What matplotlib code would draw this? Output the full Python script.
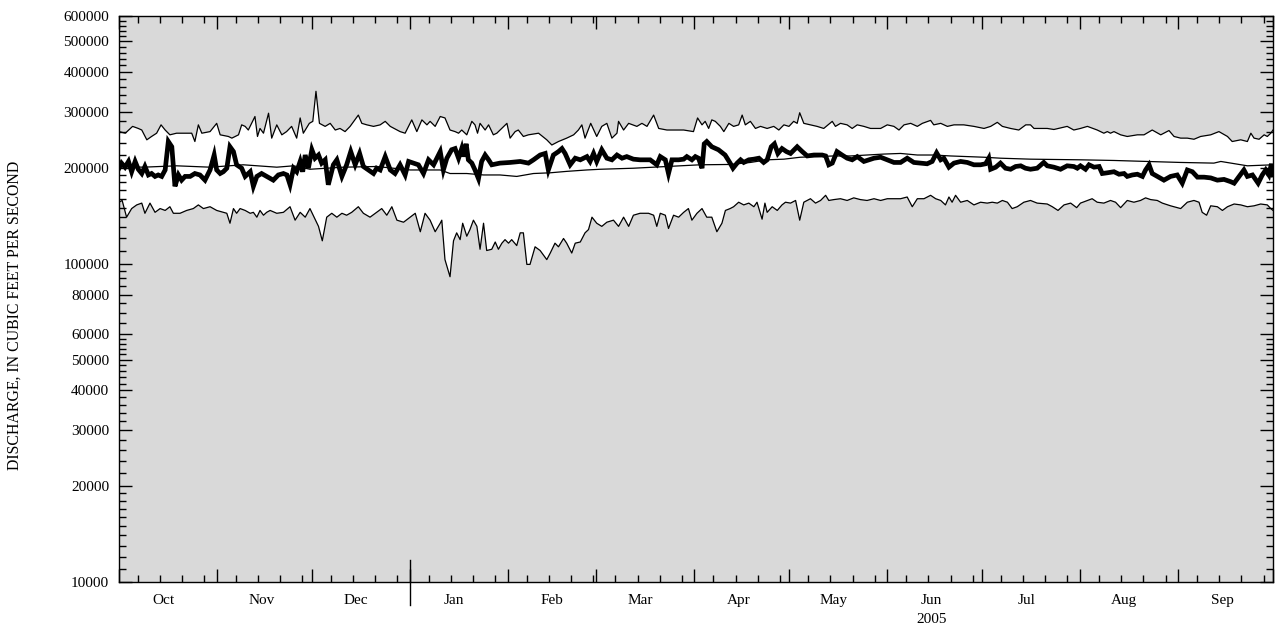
import datetime
import numpy as np
import matplotlib
matplotlib.use('Agg')
import matplotlib.pyplot as plt
import matplotlib.dates as mdates
from matplotlib.ticker import FixedLocator, FuncFormatter

# days since 1 Oct 2004 (water year 2005), discharge in thousands of cfs
max_days = [0, 2, 4.3, 6.1, 7.2, 8.8, 10.3, 11.9, 13.3, 14.6, 16.1, 18.2, 23, 24, 25.1, 26.2, 28.8, 30.9, 32, 34.6,
            35.7, 37.8, 38.8, 39.9, 40.9, 43, 43.8, 44.6, 45.7, 47.3, 48.3, 49.9, 51.5, 53, 54.6, 56.2, 57.3, 58.3,
            60.2, 61.3, 62.3, 63.4, 65.2, 66.8, 68.4, 69.9, 71.5, 73.1, 75.7, 76.8, 78.4, 80.5, 82.6, 84.2, 85.8,
            88.9, 90.5, 92.6, 94.2, 95.8, 97.4, 98.4, 100, 101.6, 103.1, 104.7, 106.3, 107.4, 108.4, 110, 111.6,
            112.6, 113.4, 114.2, 115.8, 116.9, 118.4, 119.5, 122.7, 123.7, 125.3, 126.3, 127.9, 129.5, 132.7, 135.3,
            136.9, 139, 141.6, 143.8, 145.3, 146.4, 147.4, 149.2, 151.1, 152.7, 154.3, 155.9, 157.5, 158, 159.6,
            161.2, 163.8, 165.4, 167, 169.1, 170.7, 173.3, 178.6, 181.7, 183, 184.4, 185.4, 186.5, 187.5, 188.6,
            190.2, 191.3, 192.9, 194.4, 196, 197.1, 198.1, 199.7, 201.3, 202.9, 205, 207.1, 208.7, 210.3, 211.9,
            213.4, 214.5, 215.3, 216.6, 218.7, 220.8, 222.9, 225.6, 226.6, 228.2, 230.3, 231.9, 233.5, 235.6, 237.7,
            240.9, 243, 245.1, 246.7, 248.3, 250.4, 252.5, 254.1, 256.7, 257.7, 259.9, 262, 264.1, 267.2, 270.4,
            273.6, 275.7, 277.8, 279.4, 282, 284.6, 286.8, 288.3, 289.4, 293.6, 295.7, 299.9, 302, 304.1, 306.3,
            309.4, 311.5, 312.6, 313.6, 314.7, 316.8, 318.9, 322.1, 324.2, 326.8, 329.5, 332.1, 333.7, 335.8, 337.9,
            340, 342.1, 345.3, 347.9, 350.6, 352.1, 354.8, 356.9, 358, 359, 360.6, 362.2, 363.2, 364.3, 365]
max_vals = [260, 257, 270, 266, 263, 245, 251, 257, 273, 263, 254, 257, 257, 242, 273, 257, 260, 276, 254, 251,
            248, 254, 273, 270, 263, 290, 251, 266, 257, 297, 248, 273, 254, 260, 270, 248, 287, 257,
            276, 280, 348, 276, 270, 276, 263, 266, 260, 270, 293, 276, 273, 270, 273, 280, 270,
            260, 257, 283, 260, 283, 273, 280, 270, 290, 287, 263, 260, 257, 263, 254, 280,
            273, 257, 276, 263, 273, 254, 257, 276, 248, 260, 263, 251, 254, 257, 245,
            236, 242, 248, 254, 263, 273, 248, 276, 251, 270, 276, 248, 257, 280, 263,
            276, 270, 276, 270, 293, 266, 263, 263, 260, 287, 273, 280, 266, 283, 280,
            270, 260, 276, 270, 273, 293, 273, 280, 266, 270, 266, 270, 263, 273, 270,
            280, 276, 298, 276, 273, 270, 266, 280, 270, 276, 273, 266, 273, 270, 266,
            266, 273, 270, 263, 273, 276, 270, 276, 282, 273, 276, 270, 273, 273, 270,
            266, 270, 278, 270, 266, 263, 273, 273, 266, 266, 264, 270, 263, 266, 270,
            263, 257, 260, 257, 260, 254, 251, 254, 254, 263, 254, 262, 251, 248, 248,
            246, 251, 254, 260, 251, 242, 245, 242, 257, 248, 246, 254, 251, 257, 263]

min_days = [0, 1, 2.4, 4, 5.6, 7.2, 8.2, 9.8, 11.4, 13, 14.6, 16.1, 17.2, 19.3, 21.4, 23.5, 25.1, 26.7, 28.8, 30.9,
            33, 34.1, 35.1, 36.2, 37.2, 38.3, 39.9, 41.5, 42.5, 43.6, 44.6, 45.7, 46.7, 47.8, 49.9, 52, 54.1, 55.7,
            57.3, 58.9, 60.4, 62, 63.1, 64.3, 65.7, 67.3, 68.9, 70.5, 72, 73.6, 75.7, 77.3, 79.4, 81.5, 83.1, 84.7,
            86.3, 87.9, 90, 92.1, 93.7, 95.3, 96.8, 98.4, 100, 101.6, 102.1, 103.1, 104.7, 105.8, 106.8, 107.9,
            108.7, 110, 111, 112.1, 113.2, 114.2, 115.3, 116.3, 117.9, 119, 120, 121.1, 122.1, 123.2, 124.2, 125.8,
            126.9, 127.9, 129, 130, 131.6, 133.2, 135.3, 136.4, 137.9, 139, 140.6, 141.6, 143.2, 144.3, 145.9,
            147.4, 148.5, 149.6, 151.1, 152.7, 154.3, 156.4, 158, 159.6, 161.2, 162.7, 164.8, 167.5, 169.1, 170.1,
            171.2, 172.8, 173.8, 175.4, 177, 178.6, 180.1, 181.2, 182.8, 184.4, 185.9, 187.5, 189.1, 190.7, 191.8,
            193.3, 194.4, 196, 197.6, 199.2, 200.8, 201.8, 203.4, 204.3, 205, 206.6, 208.2, 209.7, 210.8, 212.4,
            214, 215.3, 216.6, 218.7, 220.3, 221.9, 223.5, 224.5, 226.1, 228.2, 230.3, 232.4, 234.5, 236.6, 238.8,
            240.9, 243, 245.1, 247.2, 249.3, 250.9, 252.5, 254.6, 256.7, 258.3, 259.9, 261.4, 262.5, 263.5, 264.6,
            266.2, 268.3, 270.4, 272.5, 274.6, 276.2, 277.8, 279.4, 281, 282.5, 284.1, 286.2, 288.3, 290.4, 293.6,
            295.2, 297, 298.9, 301, 302.9, 304.1, 306.3, 307.8, 309.4, 311.5, 313.6, 315.2, 316.8, 318.9, 321,
            323.1, 324.7, 326.3, 328.4, 330, 332.6, 335.8, 337.9, 340, 341.6, 342.6, 344, 345.3, 347.4, 349, 350.6,
            352.7, 354.8, 356.9, 359, 361.1, 363.2, 364.3, 365]
min_vals = [156, 158, 140, 149, 153, 155, 144, 155, 145, 149, 147, 151, 144, 144, 147, 149, 153, 149, 151, 147,
            145, 144, 134, 149, 144, 149, 147, 144, 145, 140, 147, 142, 145, 147, 144, 145, 151, 137,
            145, 140, 149, 138, 131, 118, 140, 144, 140, 144, 142, 145, 151, 144, 140, 145, 149, 142,
            151, 137, 135, 140, 144, 126, 144, 137, 126, 134, 137, 103, 91, 118, 125, 119,
            134, 122, 128, 137, 131, 111, 134, 110, 111, 117, 111, 116, 119, 116, 119, 114,
            125, 125, 99.5, 99.5, 113, 110, 103, 108, 116, 113, 120, 116, 108, 116, 117,
            125, 128, 140, 134, 131, 135, 137, 131, 140, 131, 142, 144, 144, 142, 131,
            144, 142, 129, 142, 140, 145, 149, 137, 144, 149, 140, 140, 126, 134, 147,
            149, 151, 156, 153, 155, 151, 156, 138, 155, 145, 151, 147, 153, 156, 155,
            158, 137, 156, 160, 155, 158, 164, 158, 159, 160, 158, 161, 159, 158, 160,
            158, 160, 160, 160, 162, 151, 160, 160, 164, 160, 158, 153, 162, 156, 164,
            156, 158, 153, 156, 155, 156, 155, 158, 156, 149, 151, 156, 158, 155, 154,
            151, 147, 153, 155, 150, 155, 158, 160, 156, 155, 158, 156, 150, 158, 156,
            158, 161, 159, 158, 155, 152, 149, 156, 158, 156, 145, 142, 152, 151, 147, 151,
            154, 153, 151, 152, 154, 153, 149, 147]

mean_days = [0, 7.7, 18.2, 28.8, 39.3, 49.9, 55.2, 60.4, 71, 81.5, 92.1, 101.6, 104.7, 110, 115.3, 120.5, 125.8,
             131.1, 136.4, 141.6, 148, 152.2, 162.7, 169.1, 173.3, 183.8, 193.3, 199.7, 205, 210.3, 215.5, 220.8,
             226.1, 231.4, 236.6, 241.9, 247.2, 252.5, 257.7, 263, 268.3, 273.6, 278.8, 288.3, 304.1, 314.7, 325.2,
             335.8, 346.3, 348.5, 356.9, 365]
mean_vals = [202, 201, 203, 201, 204.5, 201, 203, 198, 201, 202, 197, 197, 192, 192, 190, 190, 188,
             192, 193, 195, 197, 198, 199.5, 201, 202, 204.5, 205, 208, 212, 213, 216, 217,
             218, 218, 219.5, 221, 222, 219.5, 219.5, 218, 217, 216, 214.5, 213, 212, 211, 209.5,
             208, 207, 209.5, 203, 204.5]

wy2005_days = [0, 0.8, 1.9, 3, 4, 5.1, 6.1, 7.2, 8.2, 9.3, 10.3, 11.4, 12.4, 13.5, 14.6, 15.6, 16.7, 17.7, 18.8,
               19.8, 20.9, 22.5, 24, 25.6, 27.2, 28.8, 30.1, 30.9, 32, 33, 34.1, 35.1, 36.2, 37.2, 38.8, 39.9, 41.5,
               42.5, 43.6, 45.1, 46.7, 48.8, 50.4, 52, 53.1, 54.1, 55.2, 56.2, 57.3, 58.1, 58.9, 59.9, 61, 62, 63.1,
               64.1, 65.2, 66.2, 67.8, 68.9, 70.5, 72, 73.3, 74.7, 76.1, 77.3, 78.9, 80.5, 81.5, 82.6, 84.2, 85.8,
               87.3, 88.9, 90.5, 91.6, 93.1, 94.7, 96.3, 97.9, 99.5, 101.6, 102.6, 103.7, 105.2, 106.3, 107.4, 108.4,
               108.9, 109.8, 110.5, 111.6, 112.6, 113.7, 114.7, 115.8, 116.9, 117.9, 120.5, 123.7, 126.9, 129.5,
               131.1, 133.2, 134.8, 135.8, 137.4, 139, 140.1, 141.1, 142.7, 144.3, 145.9, 148, 149, 150.1, 151.1,
               152.7, 154.3, 155.9, 157.5, 159.1, 160.6, 162.7, 164.8, 168, 170.1, 171.2, 172.8, 173.8, 174.9, 177,
               178.6, 179.6, 181.2, 182.3, 183.3, 184.4, 185.1, 185.9, 187.5, 189.6, 191.7, 193.3, 194.2, 195.5,
               196.6, 197.6, 199.2, 200.8, 202.4, 203.9, 205, 206.3, 207.3, 208.4, 209.7, 211.1, 212.4, 214.5,
               216.1, 217.7, 219.8, 222.4, 223.5, 224.5, 225.6, 227.1, 228.7, 230.3, 231.9, 233.5, 235.6, 237.2,
               238.8, 240.9, 243, 245.1, 247.2, 249.3, 251.4, 253.5, 255.6, 257.2, 258.6, 259.9, 260.9, 262.5,
               264.1, 266.2, 268.3, 270.4, 272.5, 274.1, 275.1, 275.7, 277.3, 278.8, 280.4, 282, 283.6, 285.2,
               286.7, 288.3, 290.4, 292.5, 293.6, 295.7, 297.8, 299.9, 302, 303.1, 304.1, 305.7, 306.8, 308.4, 310,
               311, 312.6, 314.7, 316.3, 317.9, 318.9, 320.5, 322.1, 323.7, 324.7, 325.8, 326.8, 328.4, 330.5,
               332.6, 334.7, 336.3, 337.9, 339.5, 341.1, 343.2, 345.3, 347.4, 349.5, 351.6, 352.7, 354.3, 355.8,
               356.9, 358.5, 360.3, 361.6, 362.7, 363.7, 364.5, 365]
wy2005_vals = [199.5, 207, 201, 209.5, 194.5, 209.5, 198, 192, 202, 190, 192, 188, 190, 188, 197, 242, 233, 175, 190,
               183, 188, 188, 192, 190, 183, 197, 219.5, 197, 192, 194.5, 199.5, 233, 225, 204.5, 199.5, 188, 194.5,
               175, 188, 192, 188, 183, 190, 192, 190, 177, 199.5, 194.5, 209.5, 194.5, 219.5, 199.5, 228, 214.5, 219.5,
               207, 212, 177, 204.5, 212, 188, 204.5, 225, 204.5, 222, 202, 197, 192, 199.5, 197, 217, 197,
               192, 204.5, 190, 209.5, 207, 204.5, 192, 212, 204.5, 225, 197, 214.5, 228, 230, 214.5, 230,
               217, 238, 212, 207, 197, 185, 209.5, 219.5, 212, 204.5, 207, 208, 209.5, 207,
               212, 219.5, 222, 197, 219.5, 225, 230, 222, 204.5, 214.5, 212, 217, 209.5, 222, 209.5,
               228, 214.5, 212, 219.5, 214.5, 217, 213, 212, 212, 204.5, 217, 212, 192, 212, 212,
               213, 217, 212, 217, 214.5, 199.5, 238, 242, 233, 228, 219.5, 207, 199.5, 207,
               212, 208, 212, 213, 214.5, 208, 212, 233, 238, 222, 230, 225, 222, 233,
               225, 218, 219.5, 219.5, 218, 204.5, 207, 225, 219.5, 214.5, 212, 217, 209.5, 212,
               214.5, 216, 212, 208, 208, 214.5, 208, 207, 206, 209.5, 223, 212, 214.5, 201,
               207, 209.5, 208, 204.5, 204.5, 206, 214.5, 198, 201, 207, 199.5, 198, 202, 203,
               199.5, 198, 199.5, 208, 203, 201, 198, 203, 202, 199.5, 203, 198, 204.5, 201, 202,
               192, 193, 194.5, 191, 192, 188, 190, 191, 188, 197, 204.5, 192, 188, 183,
               188, 190, 179, 197, 194.5, 187, 187, 186, 183, 184, 181, 179, 188, 197,
               188, 190, 179, 190, 197, 190, 206, 190]

month_names = ['Oct', 'Nov', 'Dec', 'Jan', 'Feb', 'Mar', 'Apr', 'May', 'Jun', 'Jul', 'Aug', 'Sep']
y_labels = [10000, 20000, 30000, 40000, 50000, 60000, 80000, 100000, 200000, 300000, 400000, 500000, 600000]

plt.rcParams['font.family'] = ['Liberation Serif', 'DejaVu Serif']

start = mdates.date2num(datetime.date(2004, 10, 1))
end = mdates.date2num(datetime.date(2005, 10, 1))


def to_x(days):
    return start + np.array(days, dtype=float)


fig = plt.figure(figsize=(12.78, 6.33), dpi=100)
ax = fig.add_axes([119 / 1278, 1 - 582 / 633, 1154 / 1278, 566 / 633])
ax.set_facecolor('#d9d9d9')

# white band between daily max and min
band_x = np.concatenate([to_x(max_days), to_x(min_days)[::-1]])
band_y = np.concatenate([np.array(max_vals), np.array(min_vals)[::-1]]) * 1000
ax.fill(band_x, band_y, color='white', lw=0, zorder=1)

ax.plot(to_x(max_days), np.array(max_vals) * 1000, color='black', lw=0.9, zorder=2)
ax.plot(to_x(min_days), np.array(min_vals) * 1000, color='black', lw=0.9, zorder=2)
ax.plot(to_x(mean_days), np.array(mean_vals) * 1000, color='black', lw=0.9, zorder=2)
ax.plot(to_x(wy2005_days), np.array(wy2005_vals) * 1000, color='black', lw=3.4,
        solid_joinstyle='miter', zorder=3)

ax.set_yscale('log')
ax.set_ylim(10000, 600000)
ax.set_xlim(start, end)

# y ticks
minor_y = ([v * 1000 for v in range(11, 20)] +
           [v * 1000 for v in range(22, 60, 2) if v not in (30, 40, 50)] +
           [65000, 70000, 75000, 85000, 90000, 95000] +
           [v * 1000 for v in range(110, 200, 10)] +
           [v * 1000 for v in range(220, 600, 20) if v not in (300, 400, 500)])
ax.yaxis.set_major_locator(FixedLocator(y_labels))
ax.yaxis.set_minor_locator(FixedLocator(minor_y))
ax.yaxis.set_major_formatter(FuncFormatter(lambda v, p: '%d' % v))
ax.yaxis.set_minor_formatter(FuncFormatter(lambda v, p: ''))

# x ticks: month starts long, weekly short
ax.xaxis.set_major_locator(mdates.MonthLocator())
ax.xaxis.set_minor_locator(mdates.DayLocator(bymonthday=[7, 14, 21, 28]))
ax.xaxis.set_major_formatter(FuncFormatter(lambda v, p: ''))
ax.xaxis.set_minor_formatter(FuncFormatter(lambda v, p: ''))

ax.tick_params(which='both', direction='in', top=True, right=True, width=1, colors='black')
ax.tick_params(which='major', length=9.5, labelsize=11, pad=7)
ax.tick_params(which='minor', length=5)
for s in ax.spines.values():
    s.set_linewidth(1)
    s.set_zorder(5)

# month labels centred in each month
for i, name in enumerate(month_names):
    yr = 2004 if i < 3 else 2005
    mo = (9 + i) % 12 + 1
    xm = mdates.date2num(datetime.date(yr, mo, 15))
    ax.text(xm, -0.032, name, transform=ax.get_xaxis_transform(), ha='center', va='center', fontsize=11)
    if name == 'Jun':
        ax.text(xm, -0.066, '2005', transform=ax.get_xaxis_transform(), ha='center', va='center', fontsize=11)

# year boundary mark
jan1 = mdates.date2num(datetime.date(2005, 1, 1))
ax.plot([jan1, jan1], [-0.041, 0.039], transform=ax.get_xaxis_transform(), color='black', lw=1,
        clip_on=False, zorder=6)

fig.text(15 / 1278, 1 - 315 / 633, 'DISCHARGE, IN CUBIC FEET PER SECOND', rotation=90,
         ha='center', va='center', fontsize=11.4)

fig.savefig('out.png', dpi=100)
